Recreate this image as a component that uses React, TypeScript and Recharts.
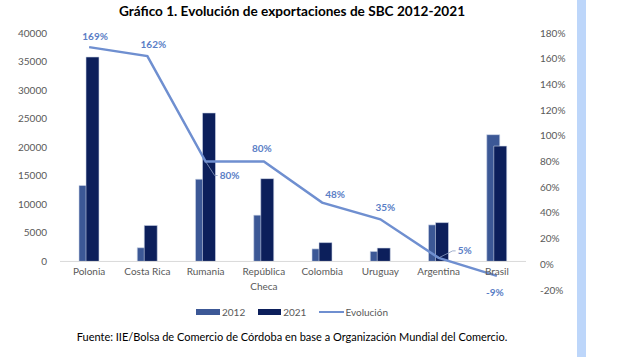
import React from "react";
import {
  ComposedChart,
  Bar,
  Line,
  XAxis,
  YAxis,
  ReferenceLine,
  LabelList,
} from "recharts";

const categories = [
  "Polonia",
  "Costa Rica",
  "Rumania",
  "República Checa",
  "Colombia",
  "Uruguay",
  "Argentina",
  "Brasil",
];
const exports2012 = [13300, 2400, 14400, 8100, 2200, 1750, 6400, 22200];
const exports2021 = [35800, 6300, 26000, 14500, 3300, 2350, 6800, 20200];
const evolucion = [169, 162, 80, 80, 48, 35, 5, -9];

const leftTicks = [0, 5000, 10000, 15000, 20000, 25000, 30000, 35000, 40000];
const rightTicks = [-20, 0, 20, 40, 60, 80, 100, 120, 140, 160, 180];

const data = categories.map((name, i) => ({
  name,
  y2012: exports2012[i],
  y2021: exports2021[i],
  evo: evolucion[i],
}));

const FONT = "Lato, 'Noto Sans', sans-serif";
const C2012 = "#3c5896";
const C2021 = "#0c1f5b";
const CLINE = "#6f8fd0";
const CLABEL = "#5a7ec6";

// how each line label sits relative to its point
const labelStyle: { kind: string; dx: number; dy: number }[] = [
  { kind: "above", dx: 6, dy: -7 },
  { kind: "above", dx: 6, dy: -8 },
  { kind: "leader", dx: 0, dy: 0 },
  { kind: "above", dx: -2, dy: -10 },
  { kind: "above", dx: 13, dy: -5 },
  { kind: "above", dx: 5, dy: -8 },
  { kind: "leader", dx: 0, dy: 0 },
  { kind: "below", dx: -2, dy: 20 },
];

const CategoryTick = (props: any) => {
  const { x, y, payload } = props;
  const label: string = payload.value;
  const lines = label.length > 12 ? label.split(" ") : [label];
  return (
    <text
      x={x}
      y={y - 23}
      textAnchor="middle"
      fill="#595959"
      fontSize={10}
      fontFamily={FONT}
    >
      {lines.map((l, i) => (
        <tspan key={i} x={x} dy={i === 0 ? 0 : 15}>
          {l}
        </tspan>
      ))}
    </text>
  );
};

const EvoLabel = (props: any) => {
  const { x, y, value, index } = props;
  const st = labelStyle[index];
  const txt = `${value}%`;
  const common = {
    fill: CLABEL,
    fontSize: 10,
    fontWeight: 700,
    fontFamily: FONT,
  };
  if (st.kind === "leader") {
    const up = value < 20;
    const ex = x + (up ? 14 : 9);
    const ey = y + (up ? -7 : 14);
    return (
      <g>
        <polyline
          points={`${x},${y} ${ex},${ey} ${ex + 3},${ey}`}
          fill="none"
          stroke="#8a9cc0"
          strokeWidth={0.8}
        />
        <text x={ex + 5} y={ey + 3.5} textAnchor="start" {...common}>
          {txt}
        </text>
      </g>
    );
  }
  return (
    <text x={x + st.dx} y={y + st.dy} textAnchor="middle" {...common}>
      {txt}
    </text>
  );
};

const LegendBox = () => (
  <div
    style={{
      position: "absolute",
      top: 306,
      left: 0,
      width: 622,
      display: "flex",
      justifyContent: "center",
      fontFamily: FONT,
      fontSize: 10,
      color: "#595959",
      paddingRight: 38,
      boxSizing: "border-box",
    }}
  >
    <span style={{ display: "flex", alignItems: "center", marginRight: 13 }}>
      <span style={{ width: 24, height: 6, background: C2012, marginRight: 2 }} />
      2012
    </span>
    <span style={{ display: "flex", alignItems: "center", marginRight: 13 }}>
      <span style={{ width: 23, height: 6, background: C2021, marginRight: 2 }} />
      2021
    </span>
    <span style={{ display: "flex", alignItems: "center" }}>
      <span style={{ width: 25, height: 2, background: CLINE, marginRight: 1 }} />
      Evolución
    </span>
  </div>
);

export default function App() {
  return (
    <div
      style={{
        position: "absolute",
        top: 0,
        left: 0,
        width: 622,
        height: 357,
        background: "#ffffff",
        overflow: "hidden",
      }}
    >
      <div
        style={{
          position: "absolute",
          top: 3,
          left: 0,
          width: 584,
          textAlign: "center",
          fontFamily: FONT,
          fontWeight: 700,
          fontSize: 13.6,
          color: "#000",
        }}
      >
        Gráfico 1. Evolución de exportaciones de SBC 2012-2021
      </div>
      <ComposedChart
        width={622}
        height={357}
        data={data}
        barGap={-6}
        margin={{ top: 33, right: 0, bottom: 37, left: 0 }}
      >
        <XAxis
          dataKey="name"
          xAxisId="x"
          axisLine={false}
          tickLine={false}
          height={30}
          interval={0}
          tick={<CategoryTick />}
        />
        <YAxis
          yAxisId="left"
          orientation="left"
          width={60}
          domain={[-5000, 40000]}
          ticks={leftTicks}
          axisLine={false}
          tickLine={false}
          tickMargin={7}
          tick={{ fill: "#595959", fontSize: 10, fontFamily: FONT }}
        />
        <YAxis
          yAxisId="right"
          orientation="right"
          width={96}
          domain={[-20, 180]}
          ticks={rightTicks}
          axisLine={false}
          tickLine={false}
          tickMargin={8}
          tickFormatter={(v) => `${v}%`}
          tick={{ fill: "#595959", fontSize: 10, fontFamily: FONT, textAnchor: "start" }}
        />
        <ReferenceLine yAxisId="left" xAxisId="x" y={0} stroke="#d9d9d9" strokeWidth={1} />
        <Bar
          dataKey="y2012"
          xAxisId="x"
          yAxisId="left"
          fill={C2012}
          stroke="#cfd7ea"
          strokeWidth={0.6}
          barSize={13}
          isAnimationActive={false}
        />
        <Bar
          dataKey="y2021"
          xAxisId="x"
          yAxisId="left"
          fill={C2021}
          stroke="#cfd7ea"
          strokeWidth={0.6}
          barSize={13}
          isAnimationActive={false}
        />
        <Line
          dataKey="evo"
          xAxisId="x"
          yAxisId="right"
          type="linear"
          stroke={CLINE}
          strokeWidth={2.5}
          dot={false}
          activeDot={false}
          isAnimationActive={false}
        >
          <LabelList dataKey="evo" content={<EvoLabel />} />
        </Line>
      </ComposedChart>
      <LegendBox />
      <div
        style={{
          position: "absolute",
          top: 330,
          left: 0,
          width: 584,
          textAlign: "center",
          fontFamily: FONT,
          fontSize: 11,
          color: "#000",
        }}
      >
        Fuente: IIE/Bolsa de Comercio de Córdoba en base a Organización Mundial del Comercio.
      </div>
      <div
        style={{
          position: "absolute",
          top: 0,
          left: 577,
          width: 9,
          height: 357,
          background: "#bdd6fa",
        }}
      />
    </div>
  );
}
